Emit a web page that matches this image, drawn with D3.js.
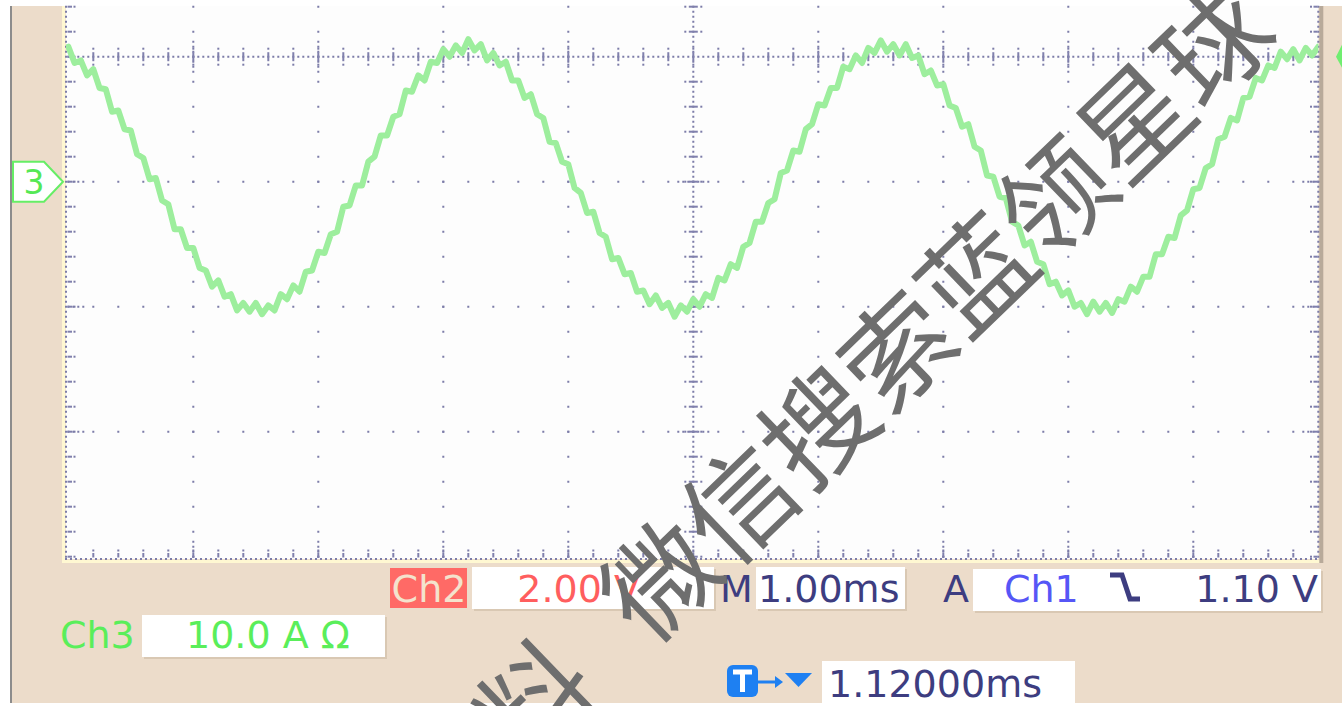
<!DOCTYPE html>
<html><head><meta charset="utf-8">
<script src="https://cdn.jsdelivr.net/npm/d3@7"></script>
<style>html,body{margin:0;padding:0;background:#fff;}svg{display:block;}</style>
</head><body>
<script>
// ---- data ----
const sampleIntervalMs = 0.05;           // time between samples, ms
const ch3Amps = [                         // Ch3 current, A (10 A/div)
 10.8,9.5,9.7,8.5,9.0,7.5,7.4,5.6,5.7,4.2,
 4.1,2.2,1.9,0.2,0.3,-1.5,-1.8,-3.8,-3.8,-5.3,
 -5.3,-6.9,-7.1,-8.4,-7.9,-9.2,-9.0,-10.3,-9.7,-10.4,
 -9.7,-10.6,-9.9,-10.3,-9.0,-9.4,-8.3,-8.8,-7.2,-7.1,
 -5.6,-5.7,-4.2,-4.0,-2.0,-1.9,-0.3,-0.3,1.6,2.0,
 3.7,3.7,5.2,5.4,7.3,7.2,8.5,8.1,9.6,9.5,
 10.6,10.0,10.9,10.3,11.4,10.5,11.0,9.7,10.3,9.3,
 9.6,8.1,8.1,6.7,7.0,5.4,5.1,3.2,3.1,1.6,
 1.4,-0.5,-0.9,-2.5,-2.4,-4.1,-4.4,-6.2,-6.1,-7.4,
 -7.3,-8.8,-8.7,-9.8,-9.1,-10.1,-9.7,-10.8,-9.9,-10.4,
 -9.4,-10.0,-9.0,-9.3,-7.7,-7.9,-6.6,-6.9,-5.2,-4.9,
 -3.2,-3.2,-1.7,-1.4,0.7,0.9,2.5,2.4,4.2,4.6,
 6.2,6.1,7.5,7.5,9.2,9.0,10.1,9.5,10.7,10.3,
 11.3,10.4,11.0,10.1,11.0,9.9,10.1,8.6,8.9,7.7,
 7.8,6.1,5.9,4.4,4.6,2.8,2.5,0.5,0.4,-1.2,
 -1.3,-3.2,-3.5,-5.1,-4.8,-6.4,-6.6,-8.2,-8.0,-9.1,
 -8.7,-10.0,-9.7,-10.6,-9.6,-10.4,-9.7,-10.5,-9.4,-9.6,
 -8.4,-8.8,-7.6,-7.6,-5.8,-5.8,-4.4,-4.5,-2.7,-2.3,
 -0.6,-0.5,1.1,1.4,3.4,3.6,5.1,4.9,6.7,6.8,
 8.3,8.1,9.3,9.1,10.4,9.8,10.6,9.7,10.7,10.1,
 10.8
];
const timeDomainMs = [0, 10];     // 10 divisions x 1.00 ms
const ampDomain = [-30, 10];      // visible part of screen, A (ground marker at 0)
const majorTimeTicks = [0,1,2,3,4,5,6,7,8,9,10];
const majorAmpTicks = [-30,-20,-10,0,10];
const labels = {
  ch2: "Ch2", ch2Scale: "2.00 V", m: "M", timebase: "1.00ms", a: "A",
  trigSrc: "Ch1", trigLevel: "1.10 V", ch3: "Ch3", ch3Scale: "10.0 A \u03A9",
  trigPos: "1.12000ms", marker: "3"
};
const watermarkA = "料";
const watermarkB = "微信搜索蓝领星球";

// ---- drawing ----
const W = 1342, H = 706;
const svg = d3.select("body").append("svg").attr("width", W).attr("height", H);

const x = d3.scaleLinear().domain(timeDomainMs).range([68.3, 1318.3]);
const y = d3.scaleLinear().domain(ampDomain).range([556.7, 56.7]);
const xC = x(5), yC = y(10);
const plotTop = 6, plotBottom = 559, plotLeft = 66, plotRight = 1318.3;

const TAN = "#ECDCCA", NAVY = "#3D3D80", DOT = "#7C7CA8";

// frame
svg.append("rect").attr("x",12).attr("y",6).attr("width",W-12).attr("height",697).attr("fill",TAN);
svg.append("rect").attr("x",10).attr("y",6).attr("width",2).attr("height",697).attr("fill","#8C8C8C");
svg.append("rect").attr("x",plotLeft).attr("y",plotTop).attr("width",plotRight-plotLeft).attr("height",plotBottom-plotTop).attr("fill","#FDFDFD");
svg.append("rect").attr("x",62).attr("y",plotTop).attr("width",3.5).attr("height",plotBottom-plotTop+4).attr("fill","#FFF8D2");
svg.append("rect").attr("x",62).attr("y",plotBottom+1).attr("width",plotRight-58).attr("height",3).attr("fill","#FFF8D2");
svg.append("rect").attr("x",plotRight+1).attr("y",plotTop).attr("width",4).attr("height",plotBottom-plotTop+4).attr("fill","#B8AA9A");

const g = svg.append("g");
function dotted(x1,y1,x2,y2,period,color){
  const vert = x1 === x2;
  g.append("line")
    .attr("x1", vert ? x1 : x1-1).attr("y1", vert ? y1-1 : y1)
    .attr("x2", vert ? x2 : x2+1).attr("y2", vert ? y2+1 : y2)
    .attr("stroke", color||DOT).attr("stroke-width",2)
    .attr("stroke-dasharray", "2 " + (period-2));
}
function bar(x1,y1,x2,y2){
  g.append("line").attr("x1",x1).attr("y1",y1).attr("x2",x2).attr("y2",y2)
   .attr("stroke","#8080AC").attr("stroke-width",2);
}
function dot(cx,cy){ g.append("rect").attr("x",cx-1).attr("y",cy-1).attr("width",2).attr("height",2).attr("fill",DOT); }

const firstVisibleY = yC - 50; // 6.7
const minorX = d3.range(x(0)+25, x(10)-1, 25);
const minorY = d3.range(firstVisibleY, y(-30)+1, 25);

// major verticals
majorTimeTicks.filter(t => t>0 && t<10 && t!==5).forEach(t => {
  const px = x(t);
  dotted(px, firstVisibleY, px, y(-30), 25);
  dotted(px, yC-15, px, yC+15, 5);
  dotted(px, y(-30)-15, px, y(-30), 5);
});
// major horizontals
majorAmpTicks.filter(v => v>-30 && v<10).forEach(v => {
  const py = y(v);
  dotted(x(0)+25, py, x(10)-25, py, 25);
  dotted(x(0), py, x(0)+15, py, 5);
  dotted(x(10)-15, py, x(10), py, 5);
  dotted(xC-15, py, xC+15, py, 5);
});
// centre lines
dotted(xC, firstVisibleY, xC, y(-30), 5);
minorY.forEach(py => { if (Math.abs(py-yC)>1) { bar(xC-4.5,py,xC+4.5,py); dot(xC-8,py); dot(xC+8,py);} });
dotted(x(0), yC, x(10), yC, 5);
minorX.forEach(px => { bar(px,yC-4.5,px,yC+4.5); dot(px,yC-8); dot(px,yC+8); });
// borders
dotted(plotLeft, firstVisibleY, plotLeft, plotBottom, 5);
dotted(plotRight, firstVisibleY, plotRight, plotBottom, 5);
dotted(plotLeft, plotBottom, plotRight, plotBottom, 5);
minorY.forEach(py => { bar(67.5,py,72,py); dot(74.5,py); bar(1313.5,py,1317.5,py); dot(1311,py); });
minorX.forEach(px => { bar(px,plotBottom-6,px,plotBottom-1.5); dot(px,plotBottom-8.5); });

// trace
svg.append("defs").append("clipPath").attr("id","clip")
  .append("rect").attr("x",plotLeft).attr("y",0).attr("width",plotRight-plotLeft).attr("height",plotBottom);
const pts = ch3Amps.map((v,i) => [i*sampleIntervalMs, v]);
svg.append("path").datum(pts).attr("clip-path","url(#clip)")
  .attr("d", d3.line().x(d => x(d[0])).y(d => y(d[1])))
  .attr("fill","none").attr("stroke","#9DEE9D").attr("stroke-width",6)
  .attr("stroke-linejoin","round").attr("stroke-linecap","round");

// ground marker "3"
const gy = y(0);
svg.append("path").attr("d",`M13,${gy-20} L44,${gy-20} L63,${gy} L44,${gy+20} L13,${gy+20} Z`)
  .attr("fill","#fff").attr("stroke","#66EE66").attr("stroke-width",2);
svg.append("text").attr("x",34).attr("y",gy+12).attr("text-anchor","middle")
  .attr("font-family","DejaVu Sans").attr("font-size",33).attr("fill","#55E855").text(labels.marker);
// trigger level marker (right edge, cut)
svg.append("path").attr("d",`M1336,${yC} L1342,${yC-12} L1350,${yC-12} L1350,${yC+11} L1342,${yC+11} Z`).attr("fill","#70EE70");

// info boxes
function box(x0,y0,w,h,fill,shadow){
  if (shadow) svg.append("rect").attr("x",x0+2).attr("y",y0+2).attr("width",w).attr("height",h).attr("fill","#D9C8B3");
  svg.append("rect").attr("x",x0).attr("y",y0).attr("width",w).attr("height",h).attr("fill",fill);
}
function txt(s,xx,yy,color,anchor){
  svg.append("text").attr("x",xx).attr("y",yy).attr("text-anchor",anchor||"start")
    .attr("font-family","DejaVu Sans").attr("font-size",38).attr("fill",color).text(s);
}
box(390,568,77,40,"#FF6A66",false);
txt(labels.ch2, 429, 602, "#F4E3CD", "middle");
box(472,567,242,42,"#FFFFFF",true);
txt(labels.ch2Scale, 640, 602, "#FF5E5E", "end");
txt(labels.m, 720, 602, NAVY);
box(756,567,149,42,"#FFFFFF",true);
txt(labels.timebase, 758, 602, NAVY);
txt(labels.a, 943, 602, NAVY);
box(973,569,348,42,"#FFFFFF",true);
txt(labels.trigSrc, 1004, 602, "#5656F6");
svg.append("path").attr("d","M1110,575 L1122,575 L1130,599 L1140,599")
  .attr("fill","none").attr("stroke",NAVY).attr("stroke-width",5);
txt(labels.trigLevel, 1318, 602, NAVY, "end");
txt(labels.ch3, 60, 648, "#5AEE5A");
box(142,615,243,42,"#FFFFFF",true);
txt(labels.ch3Scale, 186, 648, "#5AEE5A");
// trigger position
svg.append("rect").attr("x",727).attr("y",665).attr("width",31).attr("height",32).attr("rx",6).attr("fill","#1E80F2");
svg.append("path").attr("d","M733,672 L752,672 M742.5,672 L742.5,692").attr("stroke","#fff").attr("stroke-width",5).attr("fill","none");
svg.append("line").attr("x1",758).attr("y1",682).attr("x2",778).attr("y2",682).attr("stroke","#1E80F2").attr("stroke-width",3);
svg.append("path").attr("d","M775,676 L783,682 L775,688 Z").attr("fill","#1E80F2");
svg.append("path").attr("d","M785,673 L812,673 L798.5,687 Z").attr("fill","#1E80F2");
box(822,661,253,50,"#FFFFFF",false);
txt(labels.trigPos, 828, 697, NAVY);

// watermark
const wm = svg.append("g").attr("transform","translate(655,575) rotate(-44)")
  .attr("font-family","Noto Sans CJK SC").attr("font-size",110).attr("fill","#6E6E6E");
wm.append("text").attr("x",-118).attr("y",0).attr("dominant-baseline","central").attr("text-anchor","end").text(watermarkA);
wm.append("text").attr("x",-55).attr("y",0).attr("dominant-baseline","central").attr("text-anchor","start").text(watermarkB);
</script>
</body></html>
